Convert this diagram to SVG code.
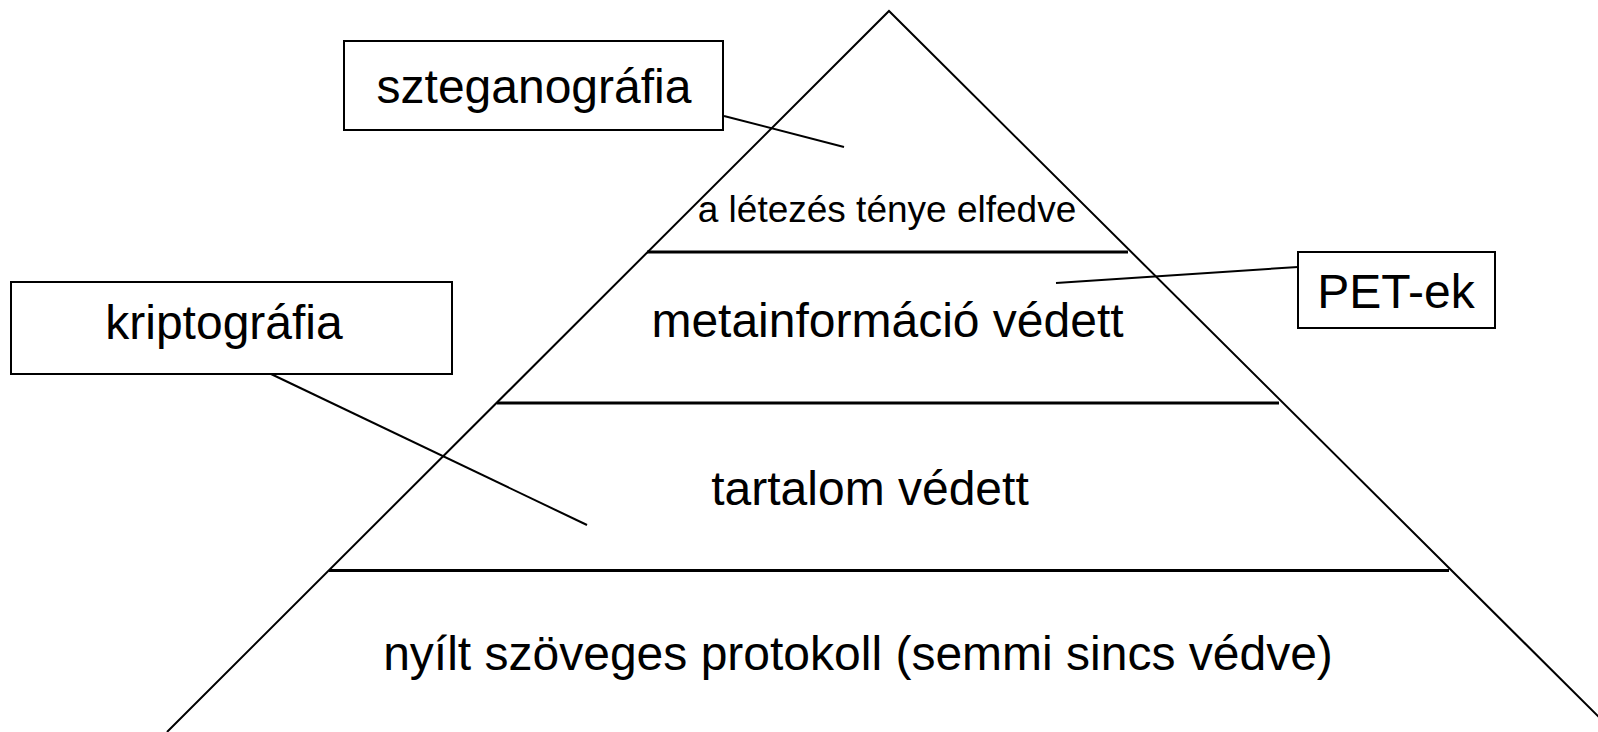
<svg xmlns="http://www.w3.org/2000/svg" width="1598" height="732" viewBox="0 0 1598 732">
<style>
.edge{stroke:#000;stroke-width:2;fill:none}
.tier{stroke:#000;stroke-width:3;fill:none}
.box{fill:#fff;stroke:#000;stroke-width:2}
.conn{stroke:#000;stroke-width:2;fill:none}
text{font-family:"Liberation Sans",Arial,sans-serif;fill:#000;text-anchor:middle}
.big{font-size:48px}
.small{font-size:37px}
</style>
<rect width="1598" height="732" fill="#fff"/>
<g id="pyramid">
<path class="edge" d="M167,732 L889,11 L1614,732"/>
<line class="tier" x1="647" y1="252" x2="1128" y2="252"/>
<line class="tier" x1="497" y1="403" x2="1279" y2="403"/>
<line class="tier" x1="329" y1="570.5" x2="1449" y2="570.5"/>
</g>
<g id="tier-top"><text class="small" x="887" y="222">a létezés ténye elfedve</text></g>
<g id="tier-meta"><text class="big" x="887.5" y="337">metainformáció védett</text></g>
<g id="tier-content"><text class="big" x="870" y="505">tartalom védett</text></g>
<g id="tier-bottom"><text class="big" x="858" y="670">nyílt szöveges protokoll (semmi sincs védve)</text></g>
<g id="connectors">
<line class="conn" x1="724" y1="116" x2="844" y2="147"/>
<line class="conn" x1="1298" y1="267" x2="1056" y2="283"/>
<line class="conn" x1="271" y1="374" x2="587" y2="525"/>
</g>
<g id="szteganografia">
<rect class="box" x="344" y="41" width="379" height="89"/>
<text class="big" x="534" y="103">szteganográfia</text>
</g>
<g id="kriptografia">
<rect class="box" x="11" y="282" width="441" height="92"/>
<text class="big" x="224" y="339">kriptográfia</text>
</g>
<g id="pet-ek">
<rect class="box" x="1298" y="252" width="197" height="76"/>
<text class="big" x="1396" y="308">PET-ek</text>
</g>
</svg>
